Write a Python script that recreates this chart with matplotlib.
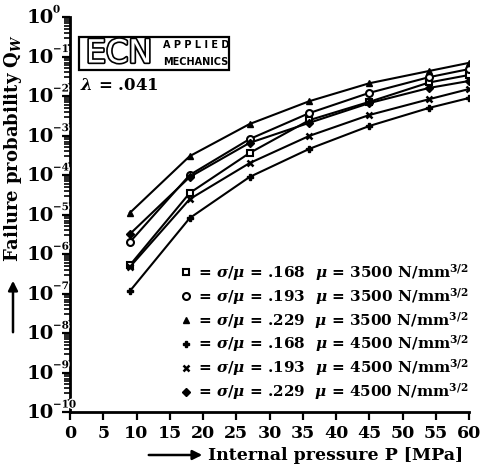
import matplotlib
matplotlib.use("Agg")
import matplotlib.pyplot as plt
from matplotlib.lines import Line2D
from matplotlib.patches import Rectangle, FancyArrowPatch
from matplotlib.ticker import LogLocator, MultipleLocator, NullFormatter
import matplotlib.patheffects as pe

plt.rcParams['font.family'] = ['DejaVu Serif']
plt.rcParams['font.weight'] = 'bold'
plt.rcParams['mathtext.fontset'] = 'custom'
plt.rcParams['mathtext.rm'] = 'DejaVu Serif:bold'
plt.rcParams['mathtext.it'] = 'DejaVu Serif:italic:bold'
plt.rcParams['mathtext.bf'] = 'DejaVu Serif:bold'

# internal pressure [MPa]
pressure = [9, 18, 27, 36, 45, 54, 60]

# failure probability per case
q_sq_168_3500 = [5.2e-7, 3.5e-5, 3.6e-4, 2.45e-3, 7.1e-3, 2.2e-2, 3.4e-2]
q_ci_193_3500 = [2.0e-6, 1.0e-4, 8.1e-4, 3.7e-3, 1.2e-2, 3.0e-2, 4.8e-2]
q_tr_229_3500 = [1.1e-5, 3.0e-4, 1.95e-3, 7.4e-3, 2.1e-2, 4.3e-2, 6.9e-2]
q_pl_168_4500 = [1.15e-7, 8.1e-6, 8.9e-5, 4.6e-4, 1.74e-3, 5.0e-3, 8.9e-3]
q_x_193_4500 = [4.7e-7, 2.45e-5, 2.0e-4, 9.8e-4, 3.3e-3, 8.3e-3, 1.5e-2]
q_di_229_4500 = [3.2e-6, 8.9e-5, 6.5e-4, 2.1e-3, 6.6e-3, 1.6e-2, 2.4e-2]

cov_labels = ['.168', '.193', '.229', '.168', '.193', '.229']
mu_labels = ['3500', '3500', '3500', '4500', '4500', '4500']
decades = list(range(-10, 1))

W, H = 480, 471


def fx(x):
    return x / W


def fy(y):
    return 1 - y / H


fig = plt.figure(figsize=(4.8, 4.71), dpi=100)
ax = fig.add_axes([fx(70), fy(412), fx(469) - fx(70), fy(17) - fy(412)])

series = [
    (q_sq_168_3500, dict(marker='s', ms=4.5, mfc='white', mew=1.5)),
    (q_ci_193_3500, dict(marker='o', ms=5, mfc='white', mew=1.5)),
    (q_tr_229_3500, dict(marker='^', ms=5, mfc='black')),
    (q_pl_168_4500, dict(marker='P', ms=5, mfc='black')),
    (q_x_193_4500, dict(marker='x', ms=5, mew=1.8)),
    (q_di_229_4500, dict(marker='D', ms=4, mfc='black')),
]

handles = []
labels = []
for (vals, style), cov, mu in zip(series, cov_labels, mu_labels):
    ax.plot(pressure, vals, color='black', lw=1.5, mec='black', **style)
    handles.append(Line2D([], [], color='black', ls='none', mec='black', **style))
    labels.append(r'= $\sigma/\mu$ = %s  $\mu$ = %s N/mm$^{3/2}$' % (cov, mu))

ax.set_yscale('log')
ax.set_ylim(1e-10, 1)
ax.set_xlim(0, 60)
ax.xaxis.set_major_locator(MultipleLocator(5))
ax.yaxis.set_major_locator(LogLocator(base=10, numticks=20))
ax.yaxis.set_minor_locator(LogLocator(base=10, subs=range(2, 10), numticks=20))
ax.yaxis.set_minor_formatter(NullFormatter())
ax.yaxis.set_major_formatter(NullFormatter())

# y tick labels: "10" with a small exponent
for e in decades:
    ax.annotate('10', xy=(0, 10.0 ** e), xycoords=('axes fraction', 'data'),
                xytext=(-12, -1), textcoords='offset points',
                ha='right', va='center', fontsize=14)
    ax.annotate(str(e).replace('-', '\u2212'), xy=(0, 10.0 ** e),
                xycoords=('axes fraction', 'data'),
                xytext=(-12.3, 5), textcoords='offset points',
                ha='left', va='center', fontsize=7.5, zorder=5,
                path_effects=[pe.withStroke(linewidth=2, foreground='white')])

for s in ['top', 'right']:
    ax.spines[s].set_visible(False)
for s in ['left', 'bottom']:
    ax.spines[s].set_linewidth(2)
ax.tick_params(axis='both', which='major', direction='out', length=6, width=1.6, labelsize=12.5)
ax.tick_params(axis='y', which='minor', direction='out', length=4.5, width=1.2)
ax.tick_params(axis='x', pad=3)

leg = ax.legend(handles, labels, loc='lower right', bbox_to_anchor=(1.02, 0.005),
                frameon=False, fontsize=11, handlelength=0.8, handletextpad=0.4,
                labelspacing=0.2, borderpad=0)

# y label with arrow
fig.text(fx(13), fy(148), r'Failure probability Q$_{W}$', rotation=90,
         ha='center', va='center', fontsize=13)
fig.patches.append(FancyArrowPatch((fx(13), fy(335)), (fx(13), fy(278)),
                                   transform=fig.transFigure, arrowstyle='-|>',
                                   mutation_scale=14, lw=1.8, color='black'))

# x label with arrow
fig.text(fx(336), fy(455), 'Internal pressure P [MPa]', ha='center', va='center', fontsize=12.5)
fig.patches.append(FancyArrowPatch((fx(146), fy(455)), (fx(205), fy(455)),
                                   transform=fig.transFigure, arrowstyle='-|>',
                                   mutation_scale=14, lw=1.8, color='black'))

# ECN logo
fig.patches.append(Rectangle((fx(79), fy(70)), fx(229) - fx(79), fy(37) - fy(70),
                             transform=fig.transFigure, fill=False, lw=1.6, ec='black'))
fig.text(fx(119), fy(54), 'ECN', ha='center', va='center', fontsize=23,
         family='DejaVu Sans', weight='normal', color='white',
         path_effects=[pe.withStroke(linewidth=2.4, foreground='black')])
fig.text(fx(196), fy(45), 'A P P L I E D', ha='center', va='center', fontsize=7,
         family='DejaVu Sans', weight='bold')
fig.text(fx(196), fy(62), 'MECHANICS', ha='center', va='center', fontsize=7,
         family='DejaVu Sans', weight='bold')
fig.text(fx(80), fy(86), r'$\lambda$ = .041', ha='left', va='center', fontsize=12)

fig.savefig('out.png', dpi=100)
